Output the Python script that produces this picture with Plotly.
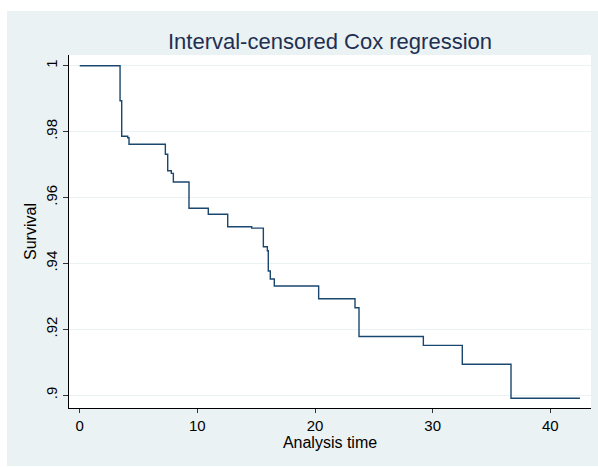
import plotly.graph_objects as go

# Step function data
times = [0, 3.43, 3.57, 4.08, 4.19, 7.28, 7.48, 7.79, 7.96, 9.29, 10.93, 12.58,
         14.62, 15.61, 15.95, 16.03, 16.20, 16.54, 20.31, 23.40, 23.74, 29.21,
         32.52, 36.66, 42.52]
survival = [1.0, 0.98938, 0.97857, 0.97815, 0.97615, 0.97311, 0.96813, 0.96734,
            0.96470, 0.95672, 0.95490, 0.95114, 0.95070, 0.94507, 0.94385,
            0.93769, 0.93526, 0.93314, 0.92929, 0.92656, 0.91780, 0.91514,
            0.90938, 0.89906, 0.89906]

x_ticks = [0, 10, 20, 30, 40]
y_ticks = [0.9, 0.92, 0.94, 0.96, 0.98, 1.0]
y_ticklabels = [".9", ".92", ".94", ".96", ".98", "1"]

W, H = 598, 467
L, R, T, B = 69, 7, 55, 59
pw, ph = W - L - R, H - T - B

BG = "#EAF2F3"
NAVY = "#1A476F"
FONT = "Liberation Sans, Arial, sans-serif"

fig = go.Figure()
fig.add_trace(go.Scatter(x=times, y=survival, mode="lines", line_shape="hv",
                         line=dict(color=NAVY, width=1.4), showlegend=False,
                         hoverinfo="skip"))

def px_x(p):
    return (p - L) / pw

def px_y(p):
    return (H - B - p) / ph

# white outer border strips (left, top, bottom) outside the blue graph region
fig.add_shape(type="rect", xref="paper", yref="paper", x0=px_x(0), x1=px_x(7),
              y0=px_y(H), y1=px_y(0), fillcolor="white", line_width=0, layer="above")
fig.add_shape(type="rect", xref="paper", yref="paper", x0=px_x(0), x1=px_x(W),
              y0=px_y(11), y1=px_y(0), fillcolor="white", line_width=0, layer="above")
fig.add_shape(type="rect", xref="paper", yref="paper", x0=px_x(0), x1=px_x(W),
              y0=px_y(H), y1=px_y(466), fillcolor="white", line_width=0, layer="above")

fig.update_layout(
    template="none",
    width=W, height=H,
    margin=dict(l=L, r=R, t=T, b=B, pad=0, autoexpand=False),
    paper_bgcolor=BG, plot_bgcolor="white",
    font=dict(family=FONT, size=15, color="#000000"),
    title=dict(text="Interval-censored Cox regression", x=330 / W, xref="container",
               xanchor="center", y=(H - 41) / H, yref="container", yanchor="middle",
               font=dict(family=FONT, size=22, color="#1E2F52")),
    xaxis=dict(range=[-0.91, 43.46], tickvals=x_ticks, showgrid=False,
               automargin=False,
               zeroline=False, showline=True, linecolor="#000000", linewidth=1,
               ticks="outside", ticklen=4, tickcolor="#333333", tickwidth=1,
               tickfont=dict(size=15, color="#000000"),
               title=dict(text="Analysis time", font=dict(size=16, color="#000000"),
                          standoff=0)),
    yaxis=dict(range=[0.89612, 1.00325], tickvals=y_ticks, ticktext=y_ticklabels,
               automargin=False,
               tickangle=-90, showgrid=True, gridcolor=BG, gridwidth=1,
               zeroline=False, showline=True, linecolor="#000000", linewidth=1,
               ticks="outside", ticklen=5, tickcolor="#333333", tickwidth=1,
               tickfont=dict(size=15, color="#000000"),
               title=dict(text="Survival", font=dict(size=16, color="#000000"),
                          standoff=2)),
)

fig.write_html("out.html", config={"displayModeBar": False},
               post_script="document.body.style.margin='0px';document.body.style.overflow='hidden';")
